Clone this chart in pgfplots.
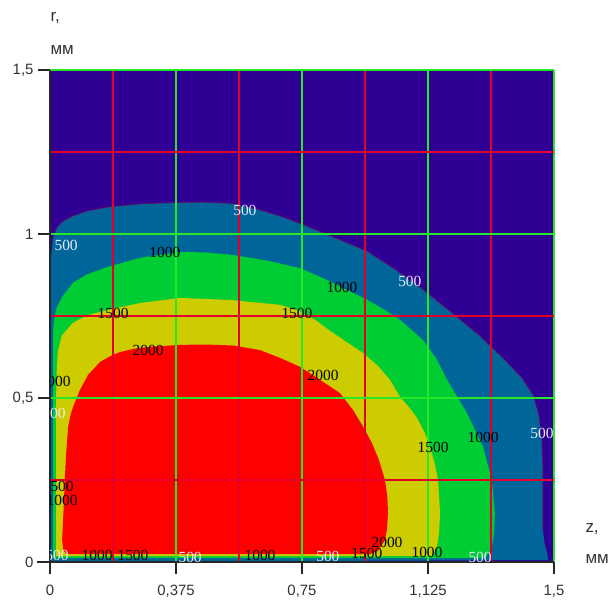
\documentclass[border=0pt]{standalone}
\usepackage{fontspec}
\setmainfont{Liberation Sans}
\newfontfamily\serifnum{Liberation Serif}
\usepackage{pgfplots}
\pgfplotsset{compat=1.18}

\definecolor{cpurple}{RGB}{48,0,148}
\definecolor{cteal}{RGB}{0,102,153}
\definecolor{cgreen}{RGB}{0,204,51}
\definecolor{cyellow}{RGB}{204,204,0}
\definecolor{cred}{RGB}{255,0,0}
\definecolor{gridgreen}{RGB}{40,230,40}
\definecolor{gridred}{RGB}{225,0,40}
\definecolor{lab}{RGB}{235,235,255}
\definecolor{edgec}{RGB}{120,0,90}

\begin{document}
\begin{tikzpicture}[
  cl/.style={font=\serifnum\fontsize{15.5}{15.5}\selectfont, inner sep=0pt, text=black},
  wl/.style={cl, text=lab}]
\begin{axis}[
  name=ax, at={(0,0)}, anchor=south west,
  set layers=standard,
  scale only axis, width=504bp, height=492bp,
  xmin=0, xmax=1.5, ymin=0, ymax=1.5,
  axis x line*=bottom, axis y line*=left,
  axis line style={-, black!85, line width=1.2pt},
  x axis line style={shorten <=-13bp},
  y axis line style={shorten <=-12bp},
  xtick={0,0.375,0.75,1.125,1.5},
  xticklabels={0,{0,375},{0,75},{1,125},{1,5}},
  ytick={0,0.5,1,1.5},
  yticklabels={0,{0,5},1,{1,5}},
  minor xtick={0.1875,0.5625,0.9375,1.3125},
  minor ytick={0.25,0.75,1.25},
  grid=both,
  major grid style={gridgreen, line width=1.15pt},
  minor grid style={gridred, line width=1.15pt},
  tick align=outside,
  major tick length=12bp,
  minor tick length=0pt,
  tick style={black!85, line width=1.2pt},
  tick label style={font=\fontsize{15}{15}\selectfont, text=black!80},
  xticklabel style={yshift=-8bp},
  yticklabel style={xshift=-1bp},
]
% background (< 500)
\addplot[fill=cpurple, draw=none, on layer=axis background] coordinates {
 (0,0) (1.5,0) (1.5,1.5) (0,1.5)} --cycle;
% 500 .. 1000
\addplot[fill=cteal, draw=none, on layer=axis background] coordinates {
 (0.003,0.000) (0.003,0.930) (0.008,0.985) (0.021,1.021) (0.040,1.040)
 (0.068,1.055) (0.110,1.070) (0.170,1.082) (0.270,1.092) (0.378,1.096)
 (0.460,1.097) (0.545,1.093) (0.620,1.075) (0.693,1.052) (0.770,1.022)
 (0.842,0.991) (0.943,0.948) (1.020,0.897) (1.101,0.838) (1.190,0.765)
 (1.280,0.689) (1.354,0.616) (1.405,0.561) (1.438,0.509) (1.455,0.448)
 (1.464,0.372) (1.467,0.280) (1.467,0.098) (1.472,0.055) (1.479,0.030)
 (1.482,0.012) (1.482,0.006)} --cycle;
\addplot[draw=edgec, line width=1.05pt, densely dotted, on layer=axis background] coordinates {
 (0.008,0.985) (0.021,1.021) (0.040,1.040)
 (0.068,1.055) (0.110,1.070) (0.170,1.082) (0.270,1.092) (0.378,1.096)
 (0.460,1.097) (0.545,1.093) (0.620,1.075) (0.693,1.052) (0.770,1.022)
 (0.842,0.991) (0.943,0.948) (1.020,0.897) (1.101,0.838) (1.190,0.765)
 (1.280,0.689) (1.354,0.616) (1.405,0.561) (1.438,0.509) (1.455,0.448)
 (1.464,0.372) (1.467,0.280) (1.467,0.098)};
% 1000 .. 1500
\addplot[fill=cgreen, draw=none, on layer=axis background] coordinates {
 (0.009,0.012) (0.009,0.700) (0.012,0.740) (0.020,0.775) (0.036,0.808)
 (0.068,0.851) (0.110,0.877) (0.170,0.899) (0.270,0.928) (0.387,0.945)
 (0.460,0.944) (0.545,0.936) (0.650,0.918) (0.744,0.896) (0.820,0.862)
 (0.884,0.829) (0.943,0.800) (1.000,0.766) (1.042,0.738) (1.110,0.677)
 (1.150,0.620) (1.182,0.555) (1.241,0.454) (1.289,0.351) (1.315,0.250)
 (1.324,0.149) (1.322,0.090) (1.315,0.046) (1.298,0.015) (1.290,0.012)} --cycle;
% 1500 .. 2000
\addplot[fill=cyellow, draw=none, on layer=axis background] coordinates {
 (0.018,0.018) (0.018,0.494) (0.020,0.580) (0.023,0.640) (0.035,0.690)
 (0.068,0.729) (0.110,0.752) (0.170,0.768) (0.270,0.790) (0.387,0.805)
 (0.536,0.799) (0.685,0.784) (0.740,0.766) (0.790,0.738) (0.830,0.707)
 (0.878,0.674) (0.932,0.637) (0.976,0.598) (1.012,0.555) (1.042,0.503)
 (1.070,0.470) (1.092,0.440) (1.115,0.395) (1.131,0.351) (1.145,0.300)
 (1.155,0.250) (1.161,0.149) (1.158,0.090) (1.152,0.046) (1.137,0.018)} --cycle;
% > 2000
\addplot[fill=cred, draw=none, on layer=axis background] coordinates {
 (0.050,0.024) (0.040,0.035) (0.036,0.067) (0.040,0.150) (0.044,0.250)
 (0.048,0.330) (0.054,0.412) (0.062,0.452) (0.071,0.479) (0.089,0.524)
 (0.113,0.570) (0.149,0.610) (0.180,0.628) (0.208,0.640) (0.250,0.650)
 (0.298,0.656) (0.387,0.662) (0.470,0.663) (0.545,0.660) (0.625,0.646)
 (0.685,0.622) (0.744,0.595) (0.804,0.555) (0.863,0.515) (0.902,0.463)
 (0.932,0.412) (0.958,0.363) (0.979,0.311) (0.997,0.250) (1.004,0.200)
 (1.006,0.149) (1.003,0.100) (0.997,0.067) (0.976,0.034) (0.952,0.024)} --cycle;

% contour labels
\node[wl] at (axis cs:0.580,1.073) {500};
\node[wl] at (axis cs:0.048,0.966) {500};
\node[wl] at (axis cs:1.071,0.854) {500};
\node[wl] at (axis cs:1.464,0.393) {500};
\node[wl] at (axis cs:0.417,0.014) {500};
\node[wl] at (axis cs:0.827,0.016) {500};
\node[wl] at (axis cs:1.280,0.014) {500};
\node[wl] at (axis cs:0.012,0.454) {500};
\node[wl] at (axis cs:0.021,0.021) {500};
\node[cl] at (axis cs:0.342,0.945) {1000};
\node[cl] at (axis cs:0.869,0.838) {1000};
\node[cl] at (axis cs:0.188,0.759) {1500};
\node[cl] at (axis cs:0.735,0.759) {1500};
\node[cl] at (axis cs:0.292,0.646) {2000};
\node[cl] at (axis cs:0.813,0.570) {2000};
\node[cl] at (axis cs:1.289,0.381) {1000};
\node[cl] at (axis cs:1.140,0.348) {1500};
\node[cl] at (axis cs:1.003,0.061) {2000};
\node[cl] at (axis cs:0.140,0.021) {1000};
\node[cl] at (axis cs:0.247,0.021) {1500};
\node[cl] at (axis cs:0.625,0.021) {1000};
\node[cl] at (axis cs:0.943,0.027) {1500};
\node[cl] at (axis cs:1.122,0.030) {1000};
\node[cl] at (axis cs:0.015,0.552) {1000};
\node[cl] at (axis cs:0.036,0.229) {500};
\node[cl] at (axis cs:0.036,0.189) {1000};
\end{axis}
\node[anchor=base west, font=\fontsize{17}{17}\selectfont, text=black!80] at ([xshift=-3bp,yshift=48bp]ax.north west) {r,};
\node[anchor=base west, font=\fontsize{17}{17}\selectfont, text=black!80] at ([xshift=-3bp,yshift=15bp]ax.north west) {мм};
\node[anchor=base west, font=\fontsize{17}{17}\selectfont, text=black!80] at ([xshift=28bp,yshift=30bp]ax.south east) {z,};
\node[anchor=base west, font=\fontsize{17}{17}\selectfont, text=black!80] at ([xshift=28bp,yshift=-1bp]ax.south east) {мм};
\pgfresetboundingbox
\path[use as bounding box] (-50bp,-42bp) rectangle (566bp,562bp);
\end{tikzpicture}
\end{document}
